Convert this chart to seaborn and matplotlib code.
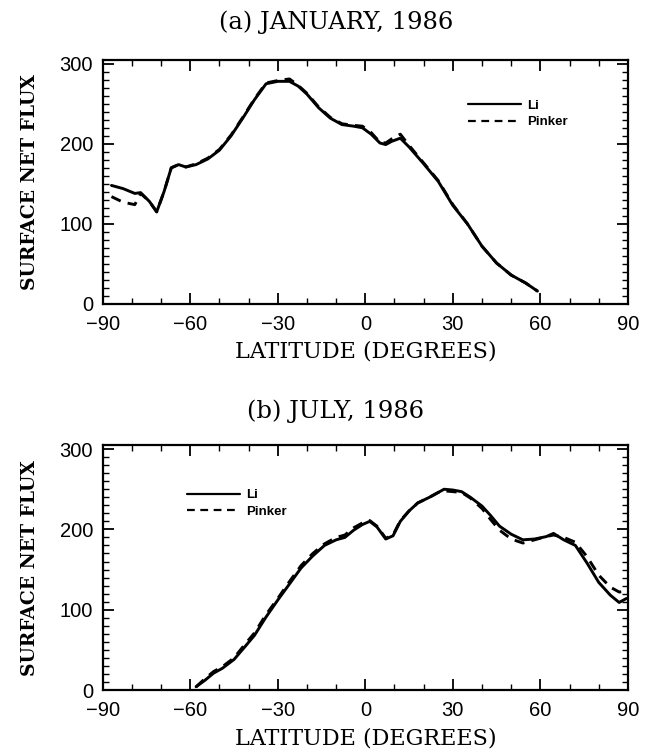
import numpy as np
import pandas as pd
import matplotlib
matplotlib.use("Agg")
import matplotlib.pyplot as plt
from matplotlib.ticker import MultipleLocator
import seaborn as sns

# ---------------- data ----------------
jan_lat = [-87, -83, -79, -77, -74, -71.5, -69, -66.5, -64, -61.5, -58, -54, -50, -46,
           -42, -38, -34, -30, -26, -23, -20, -16, -12, -8, -4, -1, 2, 5, 7, 9, 12, 15,
           20, 25, 30, 35, 40, 45, 50, 55, 59]
jan_li = [148, 144, 138, 139, 128, 115, 140, 170, 174, 171, 174, 181, 192, 210,
          232, 255, 275, 278, 278, 272, 262, 245, 232, 224, 222, 220, 212, 201, 199, 203, 207, 196,
          175, 153, 123, 100, 72, 51, 36, 26, 16]
jan_pinker = [134, 127, 124, 138, 128, 115, 140, 170, 174, 171, 175, 182, 193, 211,
              233, 256, 276, 279, 281, 273, 263, 246, 233, 225, 223, 222, 214, 202, 201, 206, 212, 198,
              176, 154, 124, 100, 72, 51, 36, 26, 16]

jul_lat = [-58, -55, -52, -49, -45, -41, -38, -34, -30, -26, -22, -18, -14, -10, -7, -4, -1,
           1.5, 4, 7, 9.5, 12, 15, 18, 22, 25, 27, 30, 33, 36, 40, 43, 46, 50, 54, 58, 62,
           64.5, 68, 72, 76, 80, 84, 87, 89.5]
jul_li = [4, 12, 21, 27, 38, 55, 68, 91, 112, 132, 152, 167, 180, 187, 190, 199, 206,
          210, 203, 188, 192, 210, 223, 233, 240, 246, 250, 249, 247, 240, 229, 217, 204, 194, 187, 188, 191,
          195, 187, 180, 158, 134, 118, 109, 114]
jul_pinker = [4, 14, 23, 29, 40, 58, 71, 94, 114, 135, 155, 170, 182, 190, 193, 202, 208,
              211, 204, 189, 193, 211, 223, 233, 240, 246, 248, 247, 246, 239, 226, 212, 199, 188, 183, 187, 191,
              193, 190, 184, 166, 143, 128, 122, 123]

titles = ["(a) JANUARY, 1986", "(b) JULY, 1986"]
series_names = ["Li", "Pinker"]
xticks = [-90, -60, -30, 0, 30, 60, 90]
yticks = [0, 100, 200, 300]

# ---------------- style ----------------
sns.set_theme(style="white")
plt.rcParams["font.family"] = ["Liberation Sans", "DejaVu Sans"]
plt.rcParams["axes.unicode_minus"] = True
for k in ["text.color", "axes.labelcolor", "xtick.color", "ytick.color", "axes.edgecolor"]:
    plt.rcParams[k] = "black"

fig = plt.figure(figsize=(6.46, 7.56), dpi=100)
ax_top = fig.add_axes([0.159, 0.598, 0.813, 0.323])
ax_bot = fig.add_axes([0.159, 0.0873, 0.813, 0.324])

panels = [
    (ax_top, jan_lat, jan_li, jan_pinker, titles[0], (0.695, 0.836), 1 - 22 / 756),
    (ax_bot, jul_lat, jul_li, jul_pinker, titles[1], (0.16, 0.82), 1 - 411 / 756),
]

serif = ["DejaVu Serif"]

for ax, lat, li, pk, title, leg_anchor, title_y in panels:
    df = pd.DataFrame({
        "lat": list(lat) * 2,
        "flux": list(li) + list(pk),
        "src": [series_names[0]] * len(lat) + [series_names[1]] * len(lat),
    })
    sns.lineplot(data=df, x="lat", y="flux", style="src", color="black",
                 dashes={"Li": "", "Pinker": (3.5, 2.5)}, linewidth=2.1,
                 ax=ax, sort=True, estimator=None)
    ax.set_xlim(-90, 90)
    ax.set_ylim(0, 305)
    ax.set_xticks(xticks)
    ax.set_yticks(yticks)
    ax.xaxis.set_minor_locator(MultipleLocator(10))
    ax.yaxis.set_minor_locator(MultipleLocator(10))
    ax.tick_params(which="both", direction="in", top=True, right=True,
                   bottom=True, left=True, color="black")
    ax.tick_params(which="major", length=8, width=1.3, labelsize=14.5, pad=8)
    ax.tick_params(which="minor", length=4, width=1.0)
    ax.tick_params(axis="y", which="major", pad=7)
    for sp in ax.spines.values():
        sp.set_visible(True)
        sp.set_color("black")
        sp.set_linewidth(1.6)
    ax.set_xlabel("LATITUDE (DEGREES)", fontsize=16, family=serif, labelpad=5)
    ax.set_ylabel("SURFACE NET FLUX", fontsize=13.5, family=serif, fontweight="bold", labelpad=15)
    fig.text(0.52, title_y, title, fontsize=17.5, family=serif, ha="center", va="center")
    ax.grid(False)
    leg = ax.legend(loc="upper left", bbox_to_anchor=leg_anchor, frameon=False,
                    borderpad=0, borderaxespad=0, handlelength=4.0, handletextpad=0.5,
                    labelspacing=0.3, prop={"family": "Liberation Sans", "weight": "bold", "size": 9.5})
    for h in leg.get_lines():
        h.set_linewidth(1.6)

fig.savefig("out.png", dpi=100, facecolor="white")
